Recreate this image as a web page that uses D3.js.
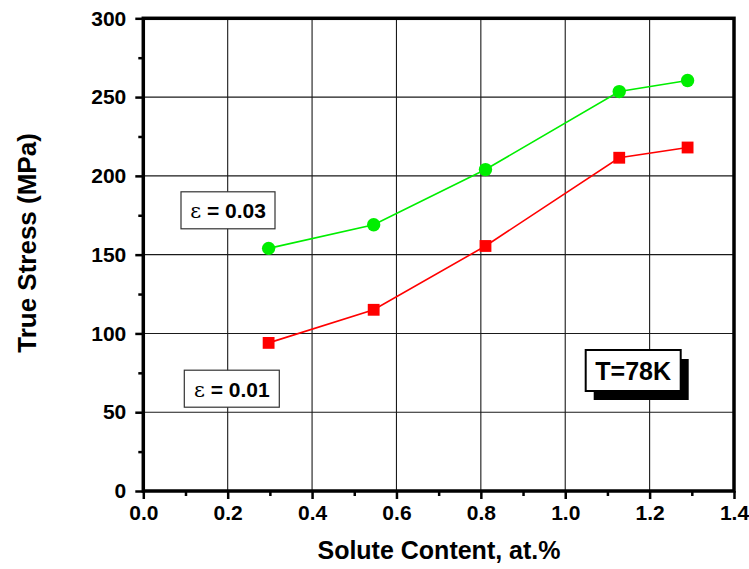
<!DOCTYPE html>
<html>
<head>
<meta charset="utf-8">
<script src="https://cdn.jsdelivr.net/npm/d3@7/dist/d3.min.js"></script>
<style>
  html, body { margin: 0; padding: 0; background: #fff; }
  svg { display: block; font-family: "Liberation Sans", Arial, sans-serif; }
  .tick text { font-weight: bold; font-size: 21px; fill: #000; }
</style>
</head>
<body>
<div id="chart"></div>
<script>
// solute content (at.%) and true stress (MPa) at 78K
const solute = [0.297, 0.546, 0.811, 1.128, 1.290];
const stress003 = [154, 169, 204, 253.5, 260.5];   // eps = 0.03
const stress001 = [94, 115, 155.5, 211.5, 218];    // eps = 0.01
const xTicks = [0, 0.2, 0.4, 0.6, 0.8, 1.0, 1.2, 1.4];
const yTicks = [0, 50, 100, 150, 200, 250, 300];

const W = 749, H = 569;
const M = { top: 18.3, right: 15, bottom: 78, left: 143.3 };
const innerW = 734 - M.left, innerH = 491 - M.top;

const svg = d3.select('#chart').append('svg').attr('width', W).attr('height', H);
const g = svg.append('g').attr('transform', `translate(${M.left},${M.top})`);

const x = d3.scaleLinear().domain([0, 1.4]).range([0, innerW]);
const y = d3.scaleLinear().domain([0, 300]).range([innerH, 0]);

// grid
g.append('g').selectAll('line').data(xTicks.slice(1, -1)).join('line')
  .attr('x1', d => x(d)).attr('x2', d => x(d)).attr('y1', 0).attr('y2', innerH)
  .attr('stroke', '#1a1a1a').attr('stroke-width', 1.1);
g.append('g').selectAll('line').data(yTicks.slice(1, -1)).join('line')
  .attr('y1', d => y(d)).attr('y2', d => y(d)).attr('x1', 0).attr('x2', innerW)
  .attr('stroke', '#1a1a1a').attr('stroke-width', 1.1);

// minor ticks
const xMinor = xTicks.slice(0, -1).map(d => d + 0.1);
const yMinor = yTicks.slice(0, -1).map(d => d + 25);
g.append('g').attr('transform', `translate(0,${innerH})`)
  .call(d3.axisBottom(x).tickValues(xMinor).tickSize(5).tickFormat(''))
  .call(s => s.select('.domain').remove())
  .selectAll('line').attr('stroke-width', 2.5);
g.append('g')
  .call(d3.axisLeft(y).tickValues(yMinor).tickSize(5).tickFormat(''))
  .call(s => s.select('.domain').remove())
  .selectAll('line').attr('stroke-width', 2.5);

// major ticks + labels
g.append('g').attr('transform', `translate(0,${innerH})`)
  .call(d3.axisBottom(x).tickValues(xTicks).tickSize(8).tickPadding(6).tickFormat(d3.format('.1f')))
  .call(s => s.select('.domain').remove())
  .selectAll('line').attr('stroke-width', 2.5);
g.append('g')
  .call(d3.axisLeft(y).tickValues(yTicks).tickSize(8).tickPadding(9).tickFormat(d3.format('d')))
  .call(s => s.select('.domain').remove())
  .selectAll('line').attr('stroke-width', 2.5);

// frame
g.append('rect').attr('width', innerW).attr('height', innerH)
  .attr('fill', 'none').attr('stroke', '#000').attr('stroke-width', 3.5);

// axis titles
g.append('text')
  .attr('x', 439 - M.left).attr('y', innerH + 68).attr('text-anchor', 'middle')
  .attr('font-weight', 'bold').attr('font-size', 25)
  .text('Solute Content, at.%');
g.append('text')
  .attr('transform', `translate(${36 - M.left},${243 - M.top}) rotate(-90)`)
  .attr('text-anchor', 'middle')
  .attr('font-weight', 'bold').attr('font-size', 26)
  .text('True Stress (MPa)');

// series
const series = [
  { vals: stress003, color: '#00ee00', shape: 'circle' },
  { vals: stress001, color: '#ff0000', shape: 'square' },
];
const line = d3.line().x((d, i) => x(solute[i])).y(d => y(d));
series.forEach(s => {
  g.append('path').datum(s.vals)
    .attr('fill', 'none').attr('stroke', s.color).attr('stroke-width', 1.6)
    .attr('d', line);
  const sym = d3.symbol().type(s.shape === 'circle' ? d3.symbolCircle : d3.symbolSquare).size(140);
  g.append('g').selectAll('path').data(s.vals).join('path')
    .attr('transform', (d, i) => `translate(${x(solute[i])},${y(d)})`)
    .attr('d', sym).attr('fill', s.color);
});

// epsilon labels
function epsBox(cx, cy, w, h, label) {
  const b = svg.append('g').attr('transform', `translate(${cx},${cy})`);
  b.append('rect').attr('x', -w / 2).attr('y', -h / 2).attr('width', w).attr('height', h)
    .attr('fill', '#fff').attr('stroke', '#333').attr('stroke-width', 1.2);
  const t = b.append('text').attr('text-anchor', 'middle').attr('y', 8)
    .attr('font-size', 21).attr('font-weight', 'bold');
  t.append('tspan').attr('font-weight', 'normal').attr('font-family', '"DejaVu Serif", serif').text('ε');
  t.append('tspan').text(' = ' + label);
}
epsBox(228, 210.3, 94, 37, '0.03');
epsBox(231.8, 388.7, 95, 37, '0.01');

// temperature label with drop shadow
const tb = svg.append('g').attr('transform', 'translate(585.7,350)');
tb.append('rect').attr('x', 8).attr('y', 9).attr('width', 95).attr('height', 41).attr('fill', '#000');
tb.append('rect').attr('width', 95).attr('height', 41)
  .attr('fill', '#fff').attr('stroke', '#000').attr('stroke-width', 2);
tb.append('text').attr('x', 47.5).attr('y', 30).attr('text-anchor', 'middle')
  .attr('font-size', 25).attr('font-weight', 'bold').text('T=78K');
</script>
</body>
</html>
